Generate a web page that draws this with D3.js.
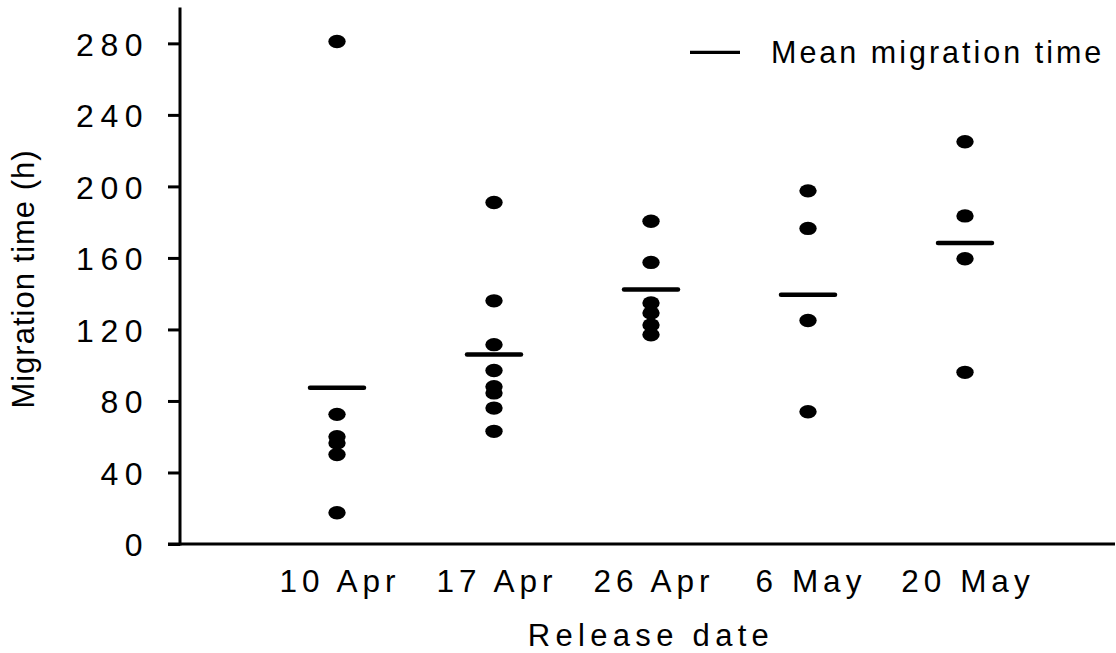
<!DOCTYPE html>
<html>
<head>
<meta charset="utf-8">
<script src="https://cdn.jsdelivr.net/npm/d3@7"></script>
<style>
  html, body { margin: 0; padding: 0; background: #fff; }
  svg { display: block; font-family: "Liberation Sans", Arial, sans-serif; }
</style>
</head>
<body>
<svg id="chart" width="1116" height="653"></svg>
<script>
// Data
const categories = ["10 Apr", "17 Apr", "26 Apr", "6 May", "20 May"];
const migrationTimes = [
  [281, 72.5, 60, 56.5, 50, 17.5],
  [191, 136, 111.5, 97, 88, 84.5, 76, 63],
  [180.5, 157.5, 134.8, 129.2, 122.5, 117],
  [197.5, 176.5, 125, 74],
  [225, 183.5, 159.5, 96]
];
const meanTimes = [87.4, 106, 142.3, 139.4, 168.3];
const yTicks = [0, 40, 80, 120, 160, 200, 240, 280];
const legendLabel = "Mean migration time";
const xTitle = "Release date";
const yTitle = "Migration time (h)";

const svg = d3.select("#chart");

const x = d3.scalePoint().domain(categories).range([337, 965]);
const y = d3.scaleLinear().domain([0, 300]).range([544, 7.6]);

const axisLeftX = 180;
const axisBottomY = y(0);

// Y axis
const yAxis = d3.axisLeft(y).tickValues(yTicks).tickSize(12).tickPadding(0).tickFormat(d3.format("d"));
const gy = svg.append("g").attr("transform", `translate(${axisLeftX},0)`).call(yAxis);
gy.select(".domain").remove();
gy.selectAll(".tick line").attr("stroke", "#000").attr("stroke-width", 3);
gy.selectAll(".tick text")
  .attr("x", -31)
  .attr("dy", "0.37em")
  .attr("font-size", 32)
  .attr("letter-spacing", 6.5)
  .attr("fill", "#000")
  .attr("font-family", "Liberation Sans, Arial, sans-serif");
gy.append("line")
  .attr("x1", 0).attr("x2", 0)
  .attr("y1", y(300)).attr("y2", axisBottomY + 1.5)
  .attr("stroke", "#000").attr("stroke-width", 3);

// X axis
const xAxis = d3.axisBottom(x).tickSize(0).tickPadding(0);
const gx = svg.append("g").attr("transform", `translate(0,${axisBottomY})`).call(xAxis);
gx.select(".domain").remove();
gx.append("line")
  .attr("x1", 168).attr("x2", 1115)
  .attr("y1", 0).attr("y2", 0)
  .attr("stroke", "#000").attr("stroke-width", 3);
gx.selectAll(".tick text")
  .attr("y", 48)
  .attr("dy", 0)
  .attr("dx", 2.5)
  .attr("font-size", 31.5)
  .attr("letter-spacing", 5)
  .attr("fill", "#000")
  .attr("font-family", "Liberation Sans, Arial, sans-serif");

// Axis titles
svg.append("text")
  .attr("x", 648 + 3).attr("y", 646)
  .attr("text-anchor", "middle")
  .attr("font-size", 31)
  .attr("letter-spacing", 5.3)
  .text(xTitle);

svg.append("text")
  .attr("transform", `translate(34,279) rotate(-90)`)
  .attr("text-anchor", "middle")
  .attr("font-size", 31)
  .attr("letter-spacing", 1)
  .text(yTitle);

// Points
const pts = [];
categories.forEach((c, i) => migrationTimes[i].forEach(v => pts.push({c, v})));
svg.append("g").selectAll("ellipse")
  .data(pts).join("ellipse")
  .attr("cx", d => x(d.c))
  .attr("cy", d => y(d.v))
  .attr("rx", 8.7).attr("ry", 6.7)
  .attr("fill", "#000");

// Mean lines
svg.append("g").selectAll("line")
  .data(categories.map((c, i) => ({c, v: meanTimes[i]}))).join("line")
  .attr("x1", d => x(d.c) - 27).attr("x2", d => x(d.c) + 27)
  .attr("y1", d => y(d.v)).attr("y2", d => y(d.v))
  .attr("stroke", "#000").attr("stroke-width", 4.5)
  .attr("stroke-linecap", "round");

// Legend
const lg = svg.append("g");
lg.append("line")
  .attr("x1", 690).attr("x2", 740)
  .attr("y1", 52.3).attr("y2", 52.3)
  .attr("stroke", "#000").attr("stroke-width", 3.3);
lg.append("text")
  .attr("x", 771).attr("y", 63.3)
  .attr("font-size", 30.5)
  .attr("letter-spacing", 3)
  .text(legendLabel);
</script>
</body>
</html>
